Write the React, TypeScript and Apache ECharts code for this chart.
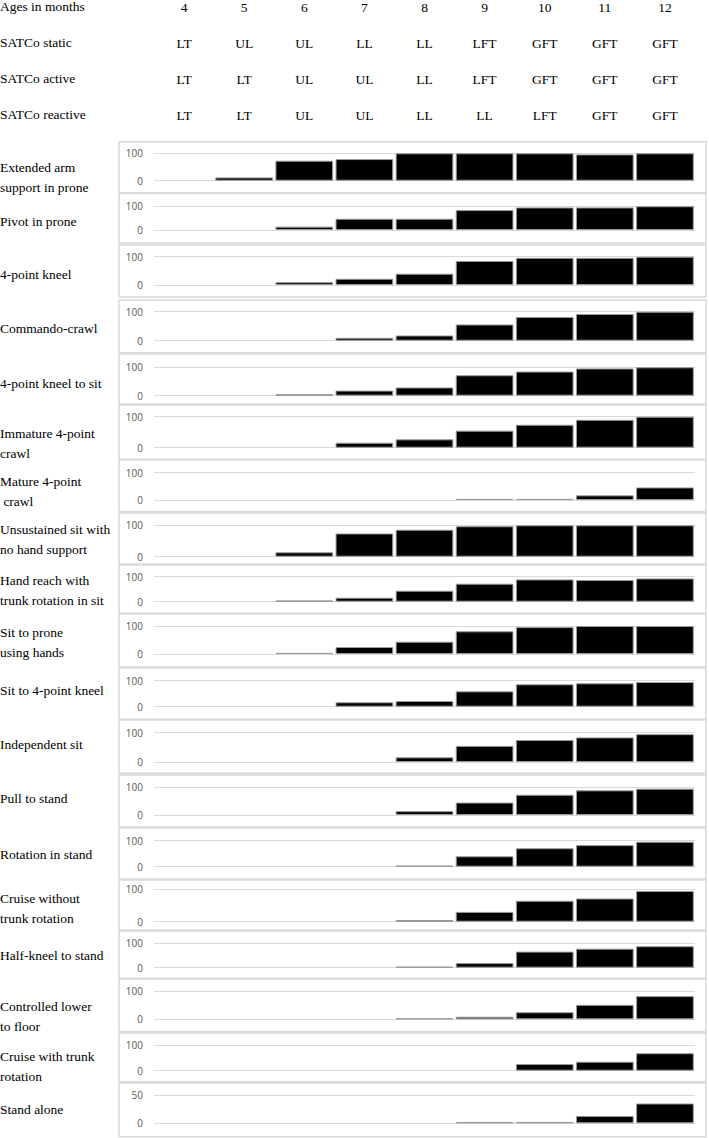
import React, { useEffect, useRef } from "react";
import * as echarts from "echarts";

// ---------- data ----------
const months = ["4", "5", "6", "7", "8", "9", "10", "11", "12"];
const headerRowNames = ["Ages in months", "SATCo static", "SATCo active", "SATCo reactive"];
const satcoStatic = ["LT", "UL", "UL", "LL", "LL", "LFT", "GFT", "GFT", "GFT"];
const satcoActive = ["LT", "LT", "UL", "UL", "LL", "LFT", "GFT", "GFT", "GFT"];
const satcoReactive = ["LT", "LT", "UL", "UL", "LL", "LL", "LFT", "GFT", "GFT"];

const milestones = [
  "Extended arm\nsupport in prone",
  "Pivot in prone",
  "4-point kneel",
  "Commando-crawl",
  "4-point kneel to sit",
  "Immature 4-point\ncrawl",
  "Mature 4-point\n crawl",
  "Unsustained sit with\nno hand support",
  "Hand reach with\ntrunk rotation in sit",
  "Sit to prone\nusing hands",
  "Sit to 4-point kneel",
  "Independent sit",
  "Pull to stand",
  "Rotation in stand",
  "Cruise without\ntrunk rotation",
  "Half-kneel to stand",
  "Controlled lower\nto floor",
  "Cruise with trunk\nrotation",
  "Stand alone",
];

const extendedArm = [0, 12, 73, 79, 100, 100, 100, 96, 100];
const pivotProne = [0, 0, 14, 47, 47, 83, 94, 94, 99];
const fourPointKneel = [0, 0, 10, 22, 40, 85, 96, 96, 100];
const commandoCrawl = [0, 0, 0, 10, 18, 56, 82, 92, 100];
const kneelToSit = [0, 0, 5, 18, 29, 72, 85, 96, 100];
const immatureCrawl = [0, 0, 0, 16, 27, 55, 74, 90, 100];
const matureCrawl = [0, 0, 0, 0, 0, 4, 4, 17, 46];
const unsustainedSit = [0, 0, 14, 74, 86, 97, 100, 100, 100];
const handReach = [0, 0, 5, 16, 44, 72, 89, 87, 93];
const sitToProne = [0, 0, 4, 25, 44, 81, 96, 100, 100];
const sitToKneel = [0, 0, 0, 17, 22, 59, 86, 90, 95];
const independentSit = [0, 0, 0, 0, 16, 55, 75, 84, 95];
const pullToStand = [0, 0, 0, 0, 14, 45, 73, 89, 95];
const rotationStand = [0, 0, 0, 0, 4, 40, 71, 83, 96];
const cruiseWithout = [0, 0, 0, 0, 5, 30, 64, 71, 94];
const halfKneel = [0, 0, 0, 0, 4, 19, 66, 78, 88];
const controlledLower = [0, 0, 0, 0, 3, 9, 25, 51, 82];
const cruiseWith = [0, 0, 0, 0, 0, 0, 26, 35, 68];
const standAlone = [0, 0, 0, 0, 0, 2.4, 2.4, 13, 35];

const panelValues = [
  extendedArm, pivotProne, fourPointKneel, commandoCrawl, kneelToSit,
  immatureCrawl, matureCrawl, unsustainedSit, handReach, sitToProne,
  sitToKneel, independentSit, pullToStand, rotationStand, cruiseWithout,
  halfKneel, controlledLower, cruiseWith, standAlone,
];
const panelMax = [100, 100, 100, 100, 100, 100, 100, 100, 100, 100, 100, 100, 100, 100, 100, 100, 100, 100, 50];

// ---------- layout ----------
const W = 709;
const H = 1138;
const GRID_LEFT = 154;
const GRID_RIGHT = 14;
const headerRowY = [7, 43, 79, 115];
// [top of plot (max line), plot height]
const panelGrid = [
  [153.3, 27.4], [206, 24], [256.7, 28.3], [311.7, 29], [367.3, 28.4],
  [416.7, 31], [472.7, 27.3], [525.3, 31.4], [576.7, 25], [626, 28],
  [680.7, 26], [732.7, 29.3], [787.3, 27.7], [840.7, 26], [889, 32.7],
  [943.3, 24.4], [991, 28.3], [1045, 25.7], [1095, 28.3],
];
// [box top, box bottom]
const panelBox = [
  [141.7, 192.7], [193.5, 243], [245, 297], [300, 352.7], [354, 404],
  [405, 459.3], [460, 511.7], [513, 564], [565, 613.3], [614, 666.7],
  [668, 719.3], [720, 773.3], [775, 826.7], [828, 879], [880, 930],
  [931, 978.3], [979, 1031.7], [1033, 1081.7], [1083, 1136.7],
];
const labelY = [177, 221, 274, 328, 383, 443, 491, 539, 590, 642, 690, 744, 798, 854, 908, 955, 1016, 1066, 1109];

const SERIF = "'Liberation Serif', 'Times New Roman', serif";
const FS = 13.5;

export default function App() {
  const ref = useRef<HTMLDivElement>(null);

  useEffect(() => {
    if (!ref.current) return;
    const chart = echarts.init(ref.current, undefined, { renderer: "svg" });

    const headerData = [months, satcoStatic, satcoActive, satcoReactive];

    const grids: any[] = [];
    const xAxes: any[] = [];
    const yAxes: any[] = [];
    const series: any[] = [];
    const graphics: any[] = [];

    headerData.forEach((row, i) => {
      grids.push({ left: GRID_LEFT, right: GRID_RIGHT, top: headerRowY[i] - 1, height: 1 });
      xAxes.push({
        type: "category",
        gridIndex: i,
        data: row,
        axisLine: { show: false },
        axisTick: { show: false },
        axisLabel: {
          show: true,
          margin: 0,
          verticalAlign: "middle",
          fontFamily: SERIF,
          fontSize: FS,
          color: "#000",
          interval: 0,
        },
      });
      yAxes.push({ type: "value", gridIndex: i, show: false });
      graphics.push({
        type: "text",
        left: 0,
        top: headerRowY[i] - 8,
        style: { text: headerRowNames[i], font: `${FS}px ${SERIF}`, fill: "#000" },
      });
    });

    panelValues.forEach((vals, p) => {
      const gi = p + 4;
      grids.push({
        left: GRID_LEFT,
        right: GRID_RIGHT,
        top: panelGrid[p][0],
        height: panelGrid[p][1],
      });
      xAxes.push({
        type: "category",
        gridIndex: gi,
        data: months,
        axisLine: { show: false },
        axisTick: { show: false },
        axisLabel: { show: false },
      });
      yAxes.push({
        type: "value",
        gridIndex: gi,
        min: 0,
        max: panelMax[p],
        interval: panelMax[p],
        axisLine: { show: false },
        axisTick: { show: false },
        axisLabel: {
          margin: 11,
          fontSize: 10,
          color: "#595959",
          fontFamily: "'Open Sans', 'Noto Sans', sans-serif",
        },
        splitLine: { lineStyle: { color: "#d9d9d9", width: 1 } },
      });
      series.push({
        type: "bar",
        name: milestones[p],
        xAxisIndex: gi,
        yAxisIndex: gi,
        data: vals.map((v) => (v === 0 ? null : v)),
        barCategoryGap: "4%",
        itemStyle: { color: "#000", borderColor: "#9a9a9a", borderWidth: 1 },
        silent: true,
      });
      graphics.push({
        type: "rect",
        shape: {
          x: 119,
          y: panelBox[p][0],
          width: 587,
          height: panelBox[p][1] - panelBox[p][0],
        },
        style: { fill: "none", stroke: "#d9d9d9", lineWidth: 1.5 },
        z: -1,
      });
      const lines = milestones[p].split("\n").length;
      graphics.push({
        type: "text",
        left: 0,
        top: labelY[p] - (lines * 20) / 2,
        style: {
          text: milestones[p],
          font: `${FS}px ${SERIF}`,
          fill: "#000",
          lineHeight: 20,
        },
      });
    });

    chart.setOption({
      animation: false,
      backgroundColor: "#fff",
      grid: grids,
      xAxis: xAxes,
      yAxis: yAxes,
      series,
      graphic: graphics,
    });

    return () => chart.dispose();
  }, []);

  return (
    <div
      ref={ref}
      style={{ position: "absolute", left: 0, top: 0, width: W, height: H }}
    />
  );
}
